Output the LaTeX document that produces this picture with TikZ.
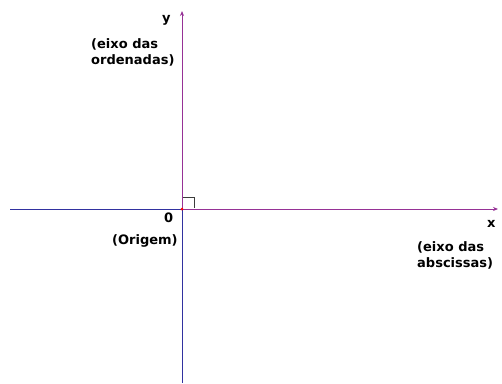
\documentclass[tikz,border=0pt]{standalone}
\usepackage{fontspec}
\setmainfont{DejaVu Sans}
\usetikzlibrary{arrows.meta}
\definecolor{axblue}{RGB}{50,50,160}
\definecolor{axpurple}{RGB}{150,50,150}
\definecolor{sqgray}{RGB}{60,60,60}
\tikzset{
  lbl/.style={font=\bfseries\fontsize{13}{16}\selectfont, inner sep=0pt, align=left, text=black},
  axis/.style={line width=1pt},
  tip/.style={-{Stealth[length=5pt,width=4pt]}}
}
\begin{document}
\begin{tikzpicture}[x=1pt,y=-1pt]
\useasboundingbox (0,0) rectangle (502,383);
\coordinate (O) at (182,209);
\coordinate (L) at (10,209);
\coordinate (R) at (498,209);
\coordinate (T) at (182,11);
\coordinate (B) at (182,383);
\draw[axis,axblue] (L) -- (O);
\draw[axis,axblue] (O) -- (B);
\draw[axis,axpurple,tip] (O) -- (R);
\draw[axis,axpurple,tip] (O) -- (T);
\draw[sqgray,line width=1pt] (183,197) -- (194,197) -- (194,208);
\fill[red] (O) circle (1.5pt);
\node[lbl,anchor=base west] (ylab) at (162,22) {y};
\node[lbl,anchor=base west] (ord) at (91,64) {(eixo das\\ordenadas)};
\node[lbl,anchor=base west] (zero) at (164,222) {0};
\node[lbl,anchor=base west] (orig) at (112,244) {(Origem)};
\node[lbl,anchor=base west] (xlab) at (487,227) {x};
\node[lbl,anchor=base west] (abs) at (417,267) {(eixo das\\abscissas)};
\end{tikzpicture}
\end{document}
